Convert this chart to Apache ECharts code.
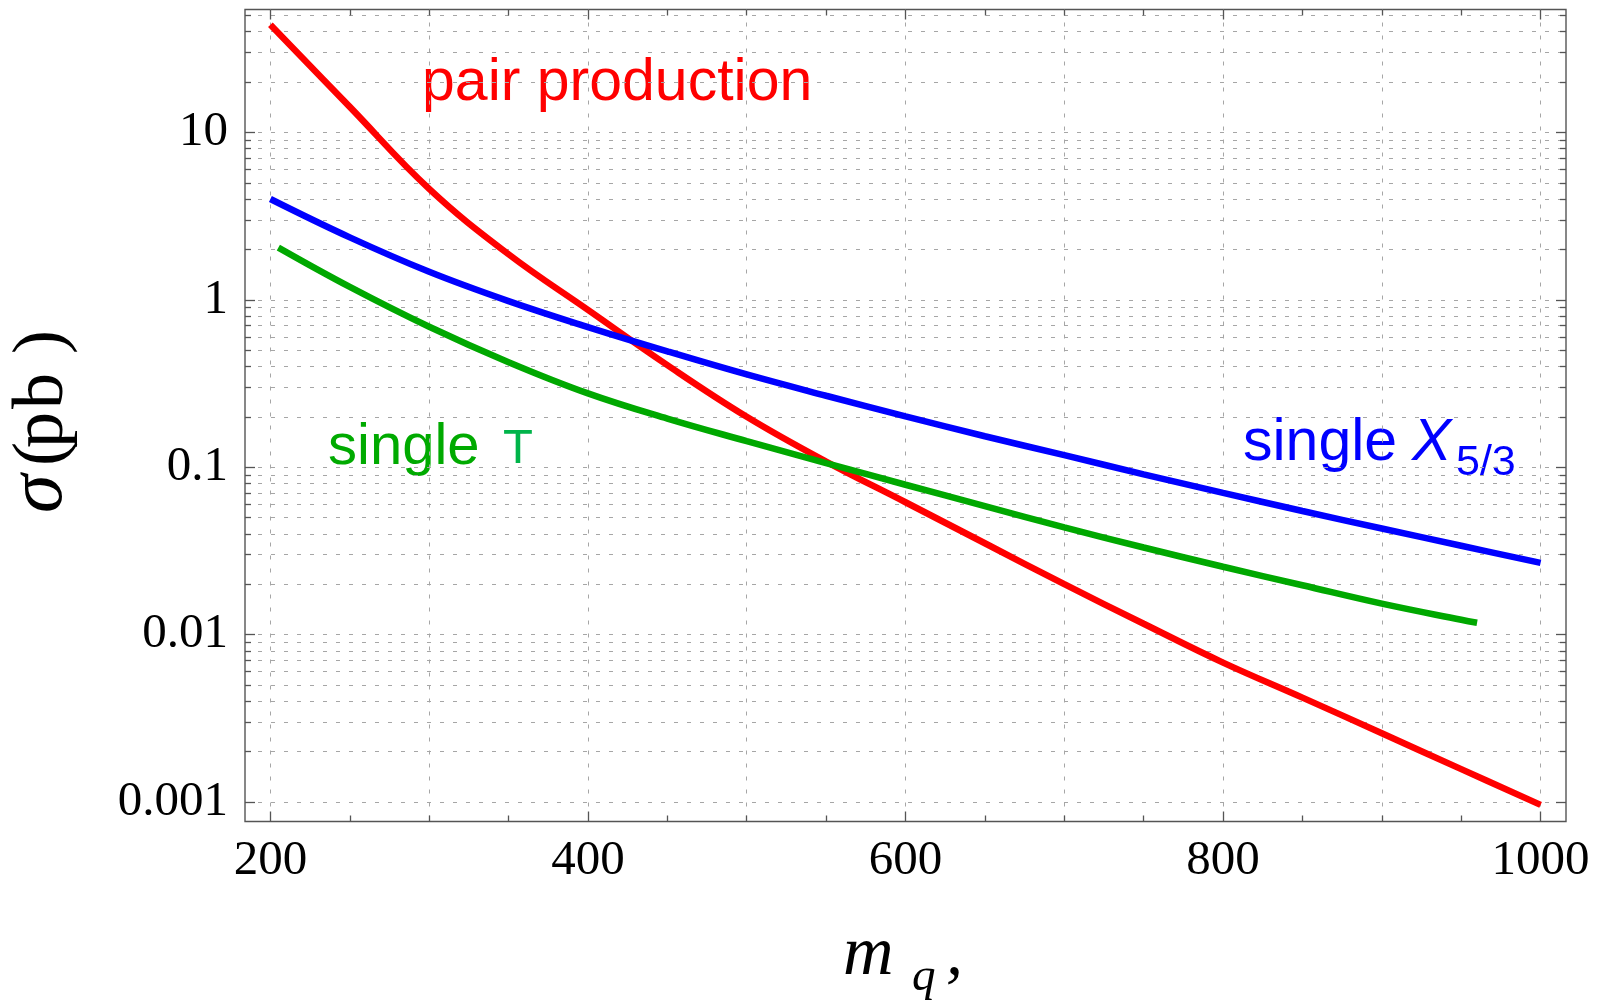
<!DOCTYPE html>
<html>
<head>
<meta charset="utf-8">
<script src="https://cdn.jsdelivr.net/npm/echarts@6/dist/echarts.min.js"></script>
<style>
  html, body { margin: 0; padding: 0; background: #ffffff; }
  #chart { width: 1599px; height: 1006px; }
</style>
</head>
<body>
<div id="chart"></div>
<script>
// Cross sections (pb) versus quark mass
const massPoints = [200, 250, 300, 350, 400, 450, 500, 550, 600, 650, 700, 750, 800, 850, 900, 950, 1000];
const pairProduction = [44, 14.2, 4.6, 1.87, 0.87, 0.407, 0.20, 0.108, 0.0617, 0.0351, 0.0200, 0.0116, 0.0068, 0.0042, 0.00257, 0.00157, 0.00096];
const singleX53 = [4.0, 2.36, 1.47, 0.982, 0.687, 0.492, 0.358, 0.267, 0.201, 0.153, 0.118, 0.0906, 0.0702, 0.0547, 0.0430, 0.0339, 0.0268];
const singleTMass = [205, 250, 300, 350, 400, 450, 500, 550, 600, 650, 700, 750, 800, 850, 900, 950, 960];
const singleT = [2.05, 1.194, 0.690, 0.424, 0.276, 0.195, 0.143, 0.1057, 0.0785, 0.0585, 0.0437, 0.0331, 0.0254, 0.0197, 0.0153, 0.01225, 0.01175];

// Axis ticks
const xTickLabels = [200, 400, 600, 800, 1000];
const xMinorTicks = [250, 300, 350, 450, 500, 550, 650, 700, 750, 850, 900, 950];
const xGridLines = [200, 300, 400, 500, 600, 700, 800, 900, 1000];
const yTickLabels = [0.001, 0.01, 0.1, 1, 10];

const X_MIN = 184, X_MAX = 1016;
const Y_MIN = 0.000764, Y_MAX = 54.2;

const yMinorTicks = [];
const yGridLines = [];
for (let e = -3; e <= 1; e++) {
  for (let k = 1; k <= 9; k++) {
    const v = Number((k * Math.pow(10, e)).toPrecision(3));
    if (v > Y_MAX) continue;
    yGridLines.push(v);
    if (k > 1) yMinorTicks.push(v);
  }
}

const FRAME = '#555555';
const GRID_STYLE = { color: '#a6a6a6', width: 1, type: [4, 9] };
const SERIF = '"Liberation Serif", "Times New Roman", serif';
const SANS = '"Liberation Sans", Arial, sans-serif';
const LINE_W = 6.5;

function xAxis(position, ticks, len, opts) {
  return Object.assign({
    type: 'value', gridIndex: 0, position: position, min: X_MIN, max: X_MAX,
    axisLine: { show: false, onZero: false },
    axisTick: { show: true, inside: true, length: len, customValues: ticks, lineStyle: { color: FRAME, width: 1.3 } },
    axisLabel: { show: false },
    splitLine: { show: false }
  }, opts || {});
}
function yAxis(position, ticks, len, opts) {
  return Object.assign({
    type: 'log', logBase: 10, gridIndex: 0, position: position, min: Y_MIN, max: Y_MAX,
    axisLine: { show: false, onZero: false },
    axisTick: { show: true, inside: true, length: len, customValues: ticks, lineStyle: { color: FRAME, width: 1.3 } },
    axisLabel: { show: false },
    splitLine: { show: false }
  }, opts || {});
}

function sansText(x, y, text, size, color, italic) {
  return {
    type: 'text', x: x, y: y, silent: true,
    style: { text: text, font: (italic ? 'italic ' : '') + size + 'px ' + SANS, fill: color, align: 'left', verticalAlign: 'middle' }
  };
}
function serifText(x, y, text, size, italic) {
  return {
    type: 'text', x: x, y: y, silent: true,
    style: { text: text, font: (italic ? 'italic ' : '') + size + 'px ' + SERIF, fill: '#000000', align: 'left', verticalAlign: 'middle' }
  };
}

const option = {
  animation: false,
  backgroundColor: '#ffffff',
  grid: {
    left: 245, right: 33, top: 9.5, bottom: 184.5,
    show: true, borderColor: FRAME, borderWidth: 1.4, backgroundColor: 'transparent'
  },
  xAxis: [
    xAxis('bottom', xTickLabels, 10, {
      axisLabel: {
        show: true, customValues: xTickLabels, margin: 15,
        fontFamily: SERIF, fontSize: 49, color: '#000000',
        formatter: function (v) { return String(Math.round(v)); }
      }
    }),
    xAxis('bottom', xMinorTicks, 6),
    xAxis('top', xTickLabels, 10),
    xAxis('top', xMinorTicks, 6),
    xAxis('bottom', xGridLines, 0, {
      axisTick: { show: false, customValues: xGridLines },
      splitLine: { show: true, lineStyle: GRID_STYLE }
    })
  ],
  yAxis: [
    yAxis('left', yTickLabels, 10, {
      axisLabel: {
        show: true, customValues: yTickLabels, margin: 17,
        fontFamily: SERIF, fontSize: 49, color: '#000000',
        formatter: function (v) {
          const t = yTickLabels.find(function (u) { return Math.abs(Math.log10(u) - Math.log10(v)) < 1e-6; });
          return t === undefined ? '' : String(t);
        }
      }
    }),
    yAxis('left', yMinorTicks, 6),
    yAxis('right', yTickLabels, 10),
    yAxis('right', yMinorTicks, 6),
    yAxis('left', yGridLines, 0, {
      axisTick: { show: false, customValues: yGridLines },
      splitLine: { show: true, lineStyle: GRID_STYLE }
    })
  ],
  series: [
    {
      name: 'pair production', type: 'line', xAxisIndex: 0, yAxisIndex: 0,
      data: massPoints.map(function (m, i) { return [m, pairProduction[i]]; }),
      showSymbol: false, smooth: 0.4, silent: true,
      lineStyle: { color: '#ff0000', width: LINE_W }, itemStyle: { color: '#ff0000' }
    },
    {
      name: 'single X5/3', type: 'line', xAxisIndex: 0, yAxisIndex: 0,
      data: massPoints.map(function (m, i) { return [m, singleX53[i]]; }),
      showSymbol: false, smooth: 0.4, silent: true,
      lineStyle: { color: '#0000ff', width: LINE_W }, itemStyle: { color: '#0000ff' }
    },
    {
      name: 'single T', type: 'line', xAxisIndex: 0, yAxisIndex: 0,
      data: singleTMass.map(function (m, i) { return [m, singleT[i]]; }),
      showSymbol: false, smooth: 0.4, silent: true,
      lineStyle: { color: '#00a800', width: LINE_W }, itemStyle: { color: '#00a800' }
    }
  ],
  graphic: [
    // curve labels
    sansText(422, 84, 'pair production', 59, '#ff0000'),
    sansText(328, 448, 'single', 58, '#00aa00'),
    sansText(503, 449, 'T', 49, '#00b44a'),
    sansText(1243, 444, 'single', 59, '#0000ff'),
    sansText(1412, 444, 'X', 59, '#0000ff', true),
    sansText(1456, 463, '5/3', 43, '#0000ff'),
    // x axis title: m_q,
    serifText(843, 956, 'm', 70, true),
    serifText(912, 978, 'q', 47, true),
    serifText(946, 956, ',', 68, true),
    // y axis title: σ(pb), reading upwards
    { type: 'group', x: 66.7, y: 416, rotation: Math.PI / 2, silent: true,
      children: [
        serifText(-97, -26, 'σ', 78, true),
        serifText(-50, -24, '(', 72, false),
        serifText(-32, -24, 'p', 72, false),
        serifText(7, -24, 'b', 72, false),
        serifText(62, -24, ')', 72, false)
      ]
    }
  ]
};

const chart = echarts.init(document.getElementById('chart'), null, { renderer: 'canvas' });
chart.setOption(option);
</script>
</body>
</html>
